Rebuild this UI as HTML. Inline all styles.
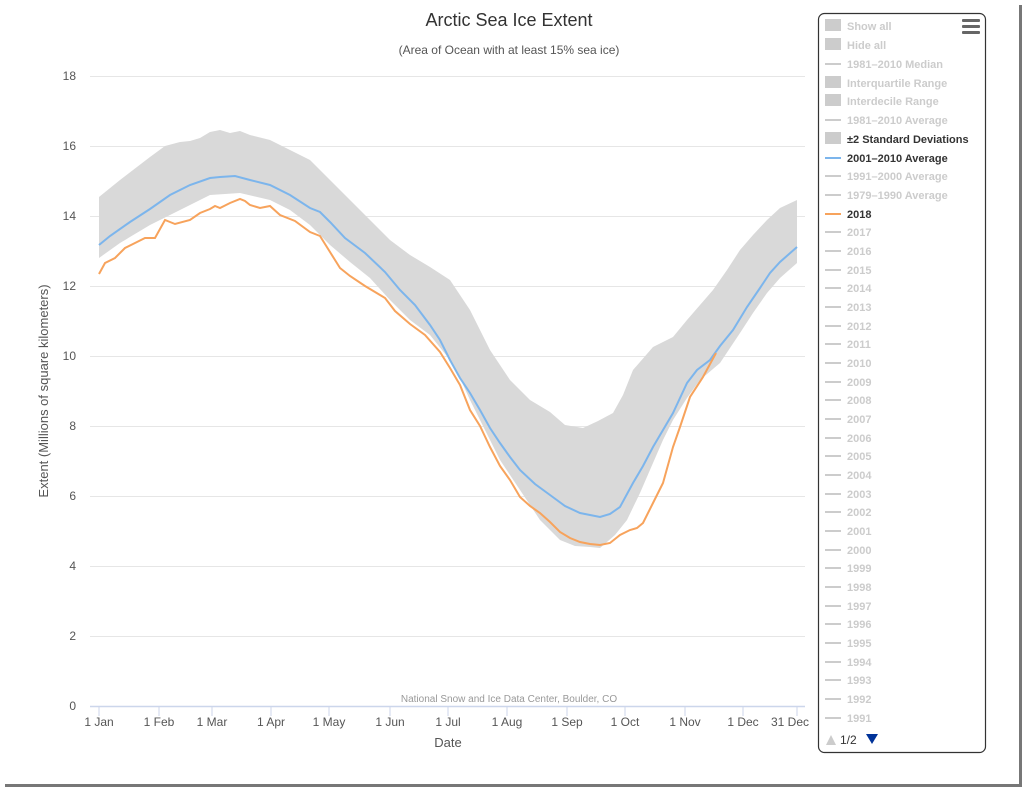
<!DOCTYPE html>
<html><head><meta charset="utf-8"><style>
html,body{margin:0;padding:0;background:#fff;}
svg{display:block;font-family:"Liberation Sans",sans-serif;}
</style></head><body>
<svg width="1024" height="789" viewBox="0 0 1024 789" xmlns="http://www.w3.org/2000/svg">
<rect x="0" y="0" width="1024" height="789" fill="#fff"/>
<rect x="1019" y="5" width="3" height="782" fill="#777"/>
<rect x="5" y="784" width="1017" height="3" fill="#777"/>
<rect x="0" y="0" width="1019" height="784" fill="#fff"/>
<text x="509" y="26" text-anchor="middle" font-size="18" fill="#333">Arctic Sea Ice Extent</text>
<text x="509" y="54" text-anchor="middle" font-size="12" fill="#555">(Area of Ocean with at least 15% sea ice)</text>
<g stroke="#e6e6e6" stroke-width="1">
<line x1="90" y1="76.5" x2="805" y2="76.5"/><line x1="90" y1="146.5" x2="805" y2="146.5"/>
<line x1="90" y1="216.5" x2="805" y2="216.5"/><line x1="90" y1="286.5" x2="805" y2="286.5"/>
<line x1="90" y1="356.5" x2="805" y2="356.5"/><line x1="90" y1="426.5" x2="805" y2="426.5"/>
<line x1="90" y1="496.5" x2="805" y2="496.5"/><line x1="90" y1="566.5" x2="805" y2="566.5"/>
<line x1="90" y1="636.5" x2="805" y2="636.5"/>
</g>
<g font-size="12" fill="#555" text-anchor="end">
<text x="76" y="80">18</text><text x="76" y="150">16</text><text x="76" y="220">14</text>
<text x="76" y="290">12</text><text x="76" y="360">10</text><text x="76" y="430">8</text>
<text x="76" y="500">6</text><text x="76" y="570">4</text><text x="76" y="640">2</text><text x="76" y="710">0</text>
</g>
<text transform="translate(48,391) rotate(-90)" text-anchor="middle" font-size="13" fill="#555">Extent (Millions of square kilometers)</text>
<path fill="#d9d9d9" d="M99,197 L120,180 L150,157 L165,146 L180,142 L190,141 L200,138 L210,132 L220,130 L230,133 L240,131 L250,135 L270,140 L290,150 L310,160 L330,180 L350,200 L370,220 L390,240 L410,255 L430,267 L450,280 L460,295 L470,310 L490,350 L510,380 L530,400 L550,412 L565,425 L583,428 L598,421 L613,413 L623,395 L633,370 L653,347 L673,337 L687,320 L700,305 L713,290 L727,270 L740,250 L753,235 L767,220 L780,208 L797,200 L797,263 L780,278 L767,293 L753,313 L740,333 L720,363 L700,380 L687,398 L673,420 L663,440 L653,463 L640,493 L627,520 L615,535 L600,548 L590,547 L575,546 L560,540 L550,530 L540,520 L530,505 L520,490 L510,475 L500,460 L490,440 L480,420 L470,400 L460,378 L450,360 L430,335 L410,320 L390,300 L370,278 L350,262 L330,245 L310,225 L290,210 L270,200 L240,193 L210,195 L180,210 L150,225 L120,243 L99,258 Z"/>
<polyline fill="none" stroke="#7cb5ec" stroke-width="2" points="99,245 110,236 130,222 150,209 170,195 190,185 210,178 220,177 235,176 250,180 270,185 290,195 310,208 320,212 330,222 345,238 365,253 385,272 400,290 415,305 430,325 440,340 450,360 460,378 470,393 480,410 490,428 500,443 510,457 520,470 535,484 550,495 565,506 580,513 600,517 610,514 620,507 633,483 643,466 653,447 663,430 673,413 687,383 697,370 710,360 720,346 733,330 747,307 760,288 770,273 780,262 797,247"/>
<polyline fill="none" stroke="#f7a35c" stroke-width="2" points="99,274 105,263 115,258 125,248 135,243 145,238 155,238 165,220 170,222 175,224 190,220 200,213 210,209 215,206 220,208 230,203 240,199 245,201 250,205 260,208 270,206 280,215 295,221 310,232 320,236 330,252 340,268 350,276 365,286 385,298 395,311 410,324 425,335 440,352 450,368 460,385 470,410 480,426 490,447 500,466 510,480 520,497 530,506 540,513 550,522 560,532 570,538 580,542 590,544 600,545 610,543 620,535 630,530 637,528 643,523 653,503 663,483 673,447 680,427 690,397 703,377 716,353"/>
<line x1="90" y1="706.5" x2="805" y2="706.5" stroke="#ccd6eb" stroke-width="1.5"/>
<g stroke="#ccd6eb" stroke-width="1">
<line x1="99" y1="706" x2="99" y2="716"/><line x1="159" y1="706" x2="159" y2="716"/><line x1="212" y1="706" x2="212" y2="716"/>
<line x1="271" y1="706" x2="271" y2="716"/><line x1="329" y1="706" x2="329" y2="716"/><line x1="390" y1="706" x2="390" y2="716"/>
<line x1="448" y1="706" x2="448" y2="716"/><line x1="507" y1="706" x2="507" y2="716"/><line x1="567" y1="706" x2="567" y2="716"/>
<line x1="625" y1="706" x2="625" y2="716"/><line x1="685" y1="706" x2="685" y2="716"/><line x1="743" y1="706" x2="743" y2="716"/>
<line x1="797" y1="706" x2="797" y2="716"/>
</g>
<text x="509" y="702" text-anchor="middle" font-size="10" fill="#999">National Snow and Ice Data Center, Boulder, CO</text>
<g font-size="12" fill="#555" text-anchor="middle">
<text x="99" y="726">1 Jan</text><text x="159" y="726">1 Feb</text><text x="212" y="726">1 Mar</text>
<text x="271" y="726">1 Apr</text><text x="329" y="726">1 May</text><text x="390" y="726">1 Jun</text>
<text x="448" y="726">1 Jul</text><text x="507" y="726">1 Aug</text><text x="567" y="726">1 Sep</text>
<text x="625" y="726">1 Oct</text><text x="685" y="726">1 Nov</text><text x="743" y="726">1 Dec</text>
<text x="790" y="726">31 Dec</text>
</g>
<text x="448" y="747" text-anchor="middle" font-size="13" fill="#555">Date</text>
<rect x="818.5" y="13.5" width="167" height="739" rx="6" fill="#fff" stroke="#333" stroke-width="1.2"/>
<g fill="#666"><rect x="962" y="19" width="18" height="3" rx="1"/><rect x="962" y="25" width="18" height="3" rx="1"/><rect x="962" y="31" width="18" height="3" rx="1"/></g>
<g font-size="11" font-weight="bold" fill="#ccc">
<rect x="825" y="19" width="16" height="12" fill="#ccc"/><text x="847" y="30">Show all</text>
<rect x="825" y="38" width="16" height="12" fill="#ccc"/><text x="847" y="49">Hide all</text>
<rect x="825" y="63" width="16" height="2" fill="#ccc"/><text x="847" y="68">1981–2010 Median</text>
<rect x="825" y="76" width="16" height="12" fill="#ccc"/><text x="847" y="87">Interquartile Range</text>
<rect x="825" y="94" width="16" height="12" fill="#ccc"/><text x="847" y="105">Interdecile Range</text>
<rect x="825" y="119" width="16" height="2" fill="#ccc"/><text x="847" y="124">1981–2010 Average</text>
<rect x="825" y="132" width="16" height="12" fill="#ccc"/><text x="847" y="143" fill="#333">±2 Standard Deviations</text>
<rect x="825" y="157" width="16" height="2" fill="#7cb5ec"/><text x="847" y="162" fill="#333">2001–2010 Average</text>
<rect x="825" y="175" width="16" height="2" fill="#ccc"/><text x="847" y="180">1991–2000 Average</text>
<rect x="825" y="194" width="16" height="2" fill="#ccc"/><text x="847" y="199">1979–1990 Average</text>
<rect x="825" y="213" width="16" height="2" fill="#f7a35c"/><text x="847" y="218" fill="#333">2018</text>
</g>
<g font-size="11" font-weight="bold" fill="#ccc">
<rect x="825" y="231" width="16" height="2"/><text x="847" y="236">2017</text>
<rect x="825" y="250" width="16" height="2"/><text x="847" y="255">2016</text>
<rect x="825" y="269" width="16" height="2"/><text x="847" y="274">2015</text>
<rect x="825" y="287" width="16" height="2"/><text x="847" y="292">2014</text>
<rect x="825" y="306" width="16" height="2"/><text x="847" y="311">2013</text>
<rect x="825" y="325" width="16" height="2"/><text x="847" y="330">2012</text>
<rect x="825" y="343" width="16" height="2"/><text x="847" y="348">2011</text>
<rect x="825" y="362" width="16" height="2"/><text x="847" y="367">2010</text>
<rect x="825" y="381" width="16" height="2"/><text x="847" y="386">2009</text>
<rect x="825" y="399" width="16" height="2"/><text x="847" y="404">2008</text>
<rect x="825" y="418" width="16" height="2"/><text x="847" y="423">2007</text>
<rect x="825" y="437" width="16" height="2"/><text x="847" y="442">2006</text>
<rect x="825" y="455" width="16" height="2"/><text x="847" y="460">2005</text>
<rect x="825" y="474" width="16" height="2"/><text x="847" y="479">2004</text>
<rect x="825" y="493" width="16" height="2"/><text x="847" y="498">2003</text>
<rect x="825" y="511" width="16" height="2"/><text x="847" y="516">2002</text>
<rect x="825" y="530" width="16" height="2"/><text x="847" y="535">2001</text>
<rect x="825" y="549" width="16" height="2"/><text x="847" y="554">2000</text>
<rect x="825" y="567" width="16" height="2"/><text x="847" y="572">1999</text>
<rect x="825" y="586" width="16" height="2"/><text x="847" y="591">1998</text>
<rect x="825" y="605" width="16" height="2"/><text x="847" y="610">1997</text>
<rect x="825" y="623" width="16" height="2"/><text x="847" y="628">1996</text>
<rect x="825" y="642" width="16" height="2"/><text x="847" y="647">1995</text>
<rect x="825" y="661" width="16" height="2"/><text x="847" y="666">1994</text>
<rect x="825" y="679" width="16" height="2"/><text x="847" y="684">1993</text>
<rect x="825" y="698" width="16" height="2"/><text x="847" y="703">1992</text>
<rect x="825" y="717" width="16" height="2"/><text x="847" y="722">1991</text>
</g>
<polygon points="826,745 836,745 831,735" fill="#ccc"/>
<text x="840" y="744" font-size="12" fill="#333">1/2</text>
<polygon points="866,734 878,734 872,744" fill="#039"/>
</svg>
</body></html>
